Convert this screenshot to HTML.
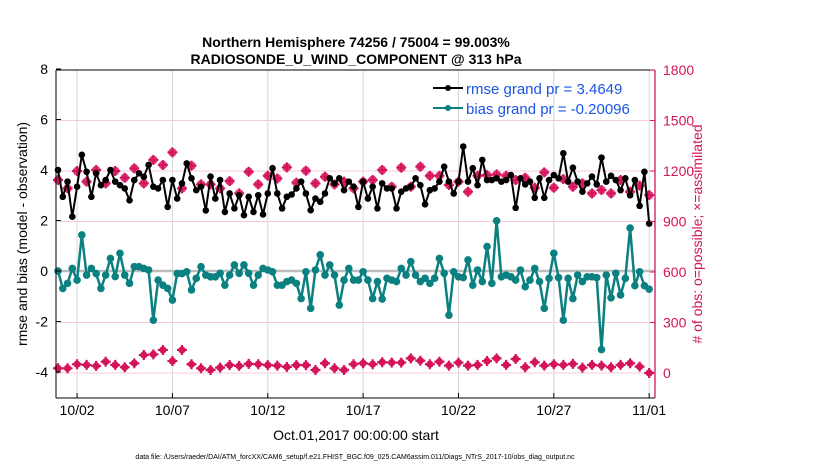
<!DOCTYPE html>
<html><head><meta charset="utf-8">
<style>
html,body{margin:0;padding:0;background:#fff;}
svg{display:block;font-family:"Liberation Sans",sans-serif;}
</style></head>
<body>
<svg id="chart" width="830" height="470" viewBox="0 0 830 470">
  <text x="356" y="47" text-anchor="middle" font-size="14" font-weight="bold">Northern Hemisphere 74256 / 75004 = 99.003%</text>
  <text x="356" y="64" text-anchor="middle" font-size="14" font-weight="bold">RADIOSONDE_U_WIND_COMPONENT @ 313 hPa</text>
  <g id="grid"></g>
  <g id="series"></g>
  <g id="axes"></g>
  <text transform="translate(27,234) rotate(-90)" text-anchor="middle" font-size="14">rmse and bias (model - observation)</text>
  <text transform="translate(702,234) rotate(-90)" text-anchor="middle" font-size="14" fill="#d4145a"># of obs: o=possible; ×=assimilated</text>
  <text x="356" y="440" text-anchor="middle" font-size="14">Oct.01,2017 00:00:00 start</text>
  <text x="355" y="459" text-anchor="middle" font-size="7">data file: /Users/raeder/DAI/ATM_forcXX/CAM6_setup/f.e21.FHIST_BGC.f09_025.CAM6assim.011/Diags_NTrS_2017-10/obs_diag_output.nc</text>
  <g>
    <g>
      <line x1="433" y1="88" x2="463" y2="88" stroke="#000" stroke-width="2"/>
      <circle cx="448" cy="88" r="3" fill="#000"/>
      <text x="466" y="94" font-size="15" fill="#1a55e6">rmse grand pr = 3.4649</text>
    </g>
    <g>
      <line x1="433" y1="108" x2="463" y2="108" stroke="#0a8080" stroke-width="2"/>
      <circle cx="448" cy="108" r="3" fill="#0a8080"/>
      <text x="466" y="114" font-size="15" fill="#1a55e6">bias grand pr = -0.20096</text>
    </g>
  </g>
</svg>
<script>
const rmse = [4.0,2.94,3.54,2.15,3.34,4.6,3.93,2.94,3.87,3.4,3.6,4.0,3.54,3.4,3.27,2.8,3.6,3.87,3.73,4.2,3.34,3.27,3.6,2.54,3.6,2.87,3.47,4.26,3.67,3.2,3.34,2.4,
3.74,2.87,3.6,2.34,3.07,2.48,3.0,2.21,2.94,2.34,3.0,2.24,3.07,4.07,3.07,2.48,2.94,3.03,3.27,3.54,3.07,2.41,2.87,2.74,3.07,3.67,3.47,3.67,3.2,3.54,3.34,2.54,
3.54,2.87,3.34,2.48,3.47,3.27,3.27,2.48,3.14,3.27,3.34,3.67,3.4,2.64,3.2,3.27,3.54,4.13,3.54,3.07,3.54,4.93,3.54,4.07,3.4,4.4,3.6,3.6,3.67,3.54,
3.6,3.8,2.5,3.67,3.43,3.54,2.9,3.67,2.9,3.6,3.8,3.67,4.66,3.54,4.09,3.54,3.14,3.47,3.74,3.43,4.49,3.54,3.77,3.6,3.2,3.67,3.0,3.6,2.58,3.93,1.88];
const bias = [0,-0.69,-0.49,0.1,-0.36,1.43,-0.16,0.1,-0.1,-0.69,-0.16,0.5,-0.22,0.7,-0.16,-0.49,0.17,0.17,0.1,0.04,-1.95,-0.36,-0.56,-0.69,-1.15,-0.1,-0.1,-0.03,-0.75,-0.29,0.17,-0.16,
-0.23,-0.23,-0.09,-0.56,-0.16,0.24,-0.09,0.24,-0.09,-0.56,-0.16,0.1,0.04,-0.03,-0.56,-0.56,-0.42,-0.36,-0.49,-1.09,-0.03,-1.48,0.04,0.64,-0.16,0.24,-0.16,-1.35,-0.36,0.1,-0.36,
-0.36,-0.03,-0.36,-1.09,-0.42,-1.11,-0.29,-0.36,-0.42,0.1,-0.16,0.37,-0.16,-0.42,-0.29,-0.49,-0.29,0.5,-0.09,-1.75,-0.03,-0.23,-0.26,0.44,-0.56,0.04,-0.42,0.97,-0.49,1.99,-0.23,-0.16,
-0.23,-0.36,0.04,-0.62,-0.36,0.1,-0.42,-1.48,-0.29,0.7,-0.26,-1.95,-0.29,-1.09,-0.16,-0.42,-0.23,-0.23,-0.26,-3.11,-0.16,-1.06,-0.09,-0.95,-0.29,1.7,-0.58,-0.03,-0.58,-0.72];
const obsPossible = [1147,1097,1200,1137,1206,1127,1200,1160,1216,1127,1266,1236,1311,1097,1232,1121,
1121,1097,1140,1067,1196,1121,1172,1156,1222,1131,1202,1127,1166,1121,1137,1097,
1137,1147,1206,1107,1220,1107,1226,1172,1172,1117,1137,1077,1172,1176,1180,
1172,1147,1160,1101,1192,1101,1152,1107,1127,1067,1087,1067,1147,1077,1113,1057];
const obsAssim = [28,28,52,48,42,67,48,34,58,107,111,137,71,137,52,28,
18,32,47,42,54,52,47,44,36,47,47,18,58,28,18,52,
58,52,64,62,62,87,73,52,67,44,62,44,48,71,87,
48,83,34,64,44,52,48,54,32,48,44,34,48,58,38,0];
const xTickDays = [1,6,11,16,21,26,31];
const xTickLabels = ["10/02","10/07","10/12","10/17","10/22","10/27","11/01"];
const yLeftTicks = [8,6,4,2,0,-2,-4];
const yRightTicks = [1800,1500,1200,900,600,300,0];

const NS="http://www.w3.org/2000/svg";
const L=56,R=655,T=70,B=398;
function xDay(d){return 58+d*19.07;}
function xIdx(i){return xDay(i*0.25);}
function yL(v){return 271-v*25.25;}
function yR(n){return 373-n*0.1683;}
function mk(tag,attrs,parent){const e=document.createElementNS(NS,tag);for(const k in attrs)e.setAttribute(k,attrs[k]);parent.appendChild(e);return e;}
const grid=document.getElementById('grid'),ser=document.getElementById('series'),ax=document.getElementById('axes');

xTickDays.forEach((d,k)=>{
  const l=mk('line',{x1:xDay(d),x2:xDay(d),y1:T,y2:B,stroke:'#d8d8d8','stroke-width':1},grid);
  
  
  const t=mk('line',{x1:xDay(d),x2:xDay(d),y1:B,y2:B-5,stroke:'#000'},ax);
  const tx=mk('text',{x:xDay(d),y:B+17,'text-anchor':'middle','font-size':14},ax);
  tx.textContent=xTickLabels[k];
  
  
});
yRightTicks.forEach(n=>{
  if(n===600||n===1800)return;
  const l=mk('line',{x1:L,x2:R,y1:yR(n),y2:yR(n),stroke:'#f5cadb','stroke-width':1},grid);
  
  
});
const zl=mk('line',{x1:L,x2:R,y1:yL(0),y2:yL(0),stroke:'#bdbdbd','stroke-width':2.5},grid);



// obs possible
obsPossible.forEach((n,k)=>{
  const g=mk('g',{},ser);
  
  
  const x=xIdx(k*2),y=yR(n);
  mk('circle',{cx:x,cy:y,r:4.3,fill:'#e0357a'},g);
  mk('path',{d:`M${x-5} ${y}H${x+5}M${x} ${y-5}V${y+5}`,stroke:'#d4145a','stroke-width':2},g);
});
function line(vals,color,w,r,name){
  const d=vals.map((v,i)=>(i?'L':'M')+xIdx(i).toFixed(1)+' '+yL(v).toFixed(1)).join('');
  const p=mk('path',{d:d,fill:'none',stroke:color,'stroke-width':w,'stroke-linejoin':'round'},ser);
  
  
  vals.forEach((v,i)=>{
    const c=mk('circle',{cx:xIdx(i),cy:yL(v),r:r,fill:color},ser);
    
    
  });
}
line(rmse,'#000',2,3.3,'rmse');
line(bias,'#0a8080',2.5,3.8,'bias');
obsAssim.forEach((n,k)=>{
  const g=mk('g',{},ser);
  
  
  const x=xIdx(k*2),y=yR(n);
  mk('circle',{cx:x,cy:y,r:3.6,fill:'#d4145a'},g);
  mk('path',{d:`M${x-5} ${y}H${x+5}M${x} ${y-5}V${y+5}`,stroke:'#d4145a','stroke-width':2.2},g);
});

// axes
mk('line',{x1:L,x2:L,y1:T,y2:B,stroke:'#000'},ax);
mk('line',{x1:L,x2:R,y1:B,y2:B,stroke:'#000'},ax);
mk('line',{x1:L,x2:R,y1:T,y2:T,stroke:'#000'},ax);
const rs=mk('line',{x1:R,x2:R,y1:T,y2:B,stroke:'#d4145a','stroke-width':1.3},ax);


yLeftTicks.forEach(v=>{
  mk('line',{x1:L,x2:L+5,y1:yL(v),y2:yL(v),stroke:'#000'},ax);
  const t=mk('text',{x:L-8,y:yL(v)+5,'text-anchor':'end','font-size':14},ax);
  t.textContent=v;
  
  
});
yRightTicks.forEach(n=>{
  mk('line',{x1:R-5,x2:R,y1:yR(n),y2:yR(n),stroke:'#d4145a'},ax);
  const t=mk('text',{x:R+8,y:yR(n)+5,'font-size':14,fill:'#d4145a'},ax);
  t.textContent=n;
  
  
});
</script>
</body></html>
